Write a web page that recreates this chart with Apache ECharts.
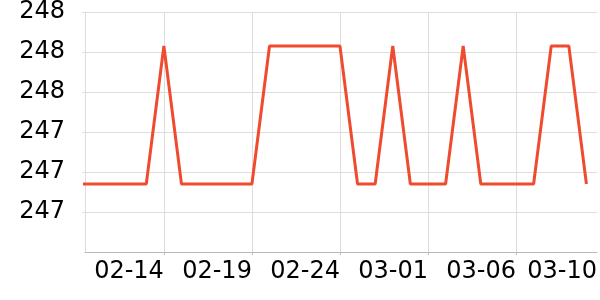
<!DOCTYPE html>
<html>
<head>
<meta charset="utf-8">
<script src="https://cdn.jsdelivr.net/npm/echarts@6/dist/echarts.min.js"></script>
<style>html,body{margin:0;padding:0;background:#fff}#c{width:600px;height:300px}</style>
</head>
<body>
<div id="c"></div>
<script>
var dates = ['02-09','02-10','02-11','02-12','02-13','02-14','02-15','02-16','02-17','02-18',
             '02-19','02-20','02-21','02-22','02-23','02-24','02-25','02-26','02-27','02-28',
             '03-01','03-02','03-03','03-04','03-05','03-06','03-07','03-08','03-09','03-10'];
var values = [247.14,247.14,247.14,247.14,247.14,247.83,247.14,247.14,247.14,247.14,
              247.14,247.83,247.83,247.83,247.83,247.83,247.14,247.14,247.83,247.14,
              247.14,247.14,247.83,247.14,247.14,247.14,247.14,247.83,247.83,247.14];
var tickDates = ['02-14','02-19','02-24','03-01','03-06'];
var lastLabel = '03-10';

var xMin = 0.52, xMax = 29.6;
var tickIdx = tickDates.map(function (d) { return dates.indexOf(d); });
var labelVals = tickIdx.concat([xMax]);
var seriesData = values.map(function (v, i) { return [i, v]; });

var chart = echarts.init(document.getElementById('c'), null, {renderer: 'canvas'});
chart.setOption({
  animation: false,
  grid: {left: 85, right: 0, top: 10, bottom: 48, containLabel: false},
  xAxis: {
    type: 'value',
    min: xMin,
    max: xMax,
    axisLine: {show: true, lineStyle: {color: '#bbbbbb', width: 1}},
    axisTick: {show: true, length: 3, customValues: tickIdx, lineStyle: {color: '#bbbbbb'}},
    splitLine: {show: true, lineStyle: {color: '#dddddd', width: 1}},
    axisLabel: {
      customValues: labelVals,
      align: 'right',
      margin: 8,
      fontSize: 24,
      fontFamily: 'DejaVu Sans',
      color: '#000',
      formatter: function (v) {
        var i = Math.floor(v + 1e-6);
        return dates[Math.min(i, dates.length - 1)];
      }
    }
  },
  yAxis: {
    type: 'value',
    min: 246.8,
    max: 248.0,
    interval: 0.2,
    axisLine: {show: true, lineStyle: {color: '#dddddd', width: 1}},
    axisTick: {show: true, length: 3, lineStyle: {color: '#dddddd'}},
    splitLine: {show: true, lineStyle: {color: '#dddddd', width: 1}},
    axisLabel: {
      showMinLabel: false,
      margin: 20,
      fontSize: 24,
      fontFamily: 'DejaVu Sans',
      color: '#000',
      formatter: function (v) { return Math.round(v).toString(); }
    }
  },
  series: [{
    type: 'line',
    data: seriesData,
    showSymbol: false,
    symbol: 'none',
    clip: true,
    lineStyle: {color: '#ef4b2f', width: 3},
    itemStyle: {color: '#ef4b2f'}
  }]
});
</script>
</body>
</html>
